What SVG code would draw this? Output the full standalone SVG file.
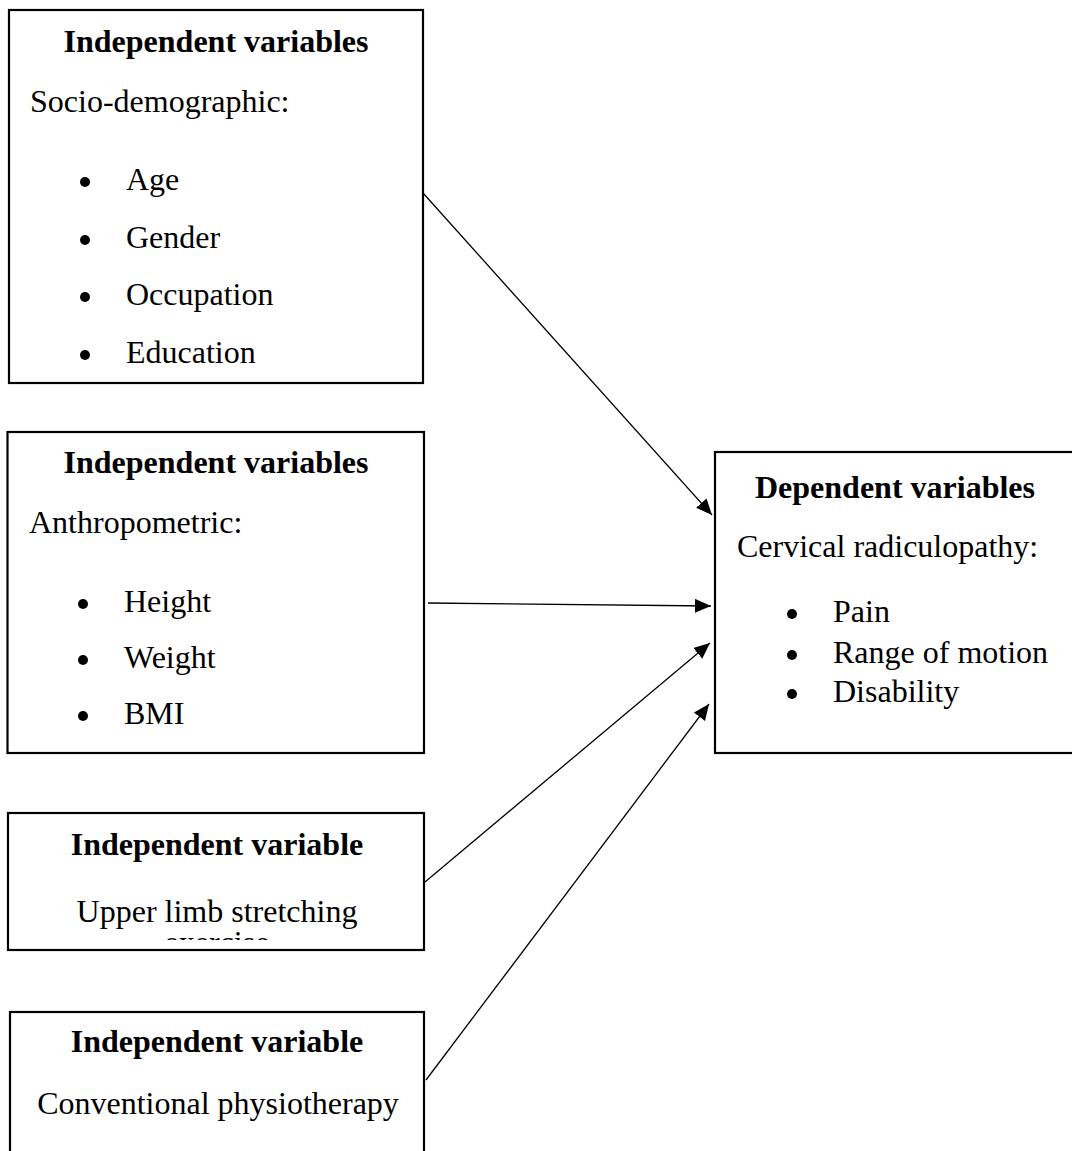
<svg xmlns="http://www.w3.org/2000/svg" width="1072" height="1151" viewBox="0 0 1072 1151">
<style>
.box{fill:#fff;stroke:#000;stroke-width:2.2}
.t{font-family:"Liberation Serif","Times New Roman",serif;font-size:32px;fill:#000}
.b{font-weight:bold}
.c{text-anchor:middle}
.dot{fill:#000}
.conn{stroke:#000;stroke-width:1.3;fill:none}
</style>
<defs>
<marker id="ah" markerUnits="userSpaceOnUse" markerWidth="18" markerHeight="16" refX="16" refY="7" orient="auto">
<path d="M0,0 L16,7 L0,14 z" fill="#000"/>
</marker>
<clipPath id="clip3"><rect x="0" y="932" width="440" height="8"/></clipPath>
</defs>
<rect width="1072" height="1151" fill="#fff"/>
<g id="box1">
<rect class="box" x="9" y="10" width="414" height="373"/>
<text class="t b c" x="216" y="52">Independent variables</text>
<text class="t" x="30" y="112">Socio-demographic:</text>
<circle class="dot" cx="85" cy="182" r="5"/><text class="t" x="126" y="190">Age</text>
<circle class="dot" cx="85" cy="240" r="5"/><text class="t" x="126" y="248">Gender</text>
<circle class="dot" cx="85" cy="297" r="5"/><text class="t" x="126" y="305">Occupation</text>
<circle class="dot" cx="85" cy="355" r="5"/><text class="t" x="126" y="363">Education</text>
</g>
<g id="box2">
<rect class="box" x="7.5" y="432" width="416.5" height="321"/>
<text class="t b c" x="216" y="473">Independent variables</text>
<text class="t" x="29" y="533">Anthropometric:</text>
<circle class="dot" cx="83" cy="604" r="5"/><text class="t" x="124" y="612">Height</text>
<circle class="dot" cx="83" cy="660" r="5"/><text class="t" x="124" y="668">Weight</text>
<circle class="dot" cx="83" cy="716" r="5"/><text class="t" x="124" y="724">BMI</text>
</g>
<g id="box3">
<rect class="box" x="8" y="813" width="416" height="137"/>
<text class="t b c" x="217" y="855">Independent variable</text>
<text class="t c" x="217" y="922">Upper limb stretching</text>
<text class="t c" x="217" y="953" clip-path="url(#clip3)">exercise</text>
</g>
<g id="box4">
<rect class="box" x="10" y="1012" width="414" height="170"/>
<text class="t b c" x="217" y="1052">Independent variable</text>
<text class="t c" x="218" y="1114">Conventional physiotherapy</text>
</g>
<g id="box5">
<rect class="box" x="715" y="452" width="380" height="301"/>
<text class="t b" x="755" y="498">Dependent variables</text>
<text class="t" x="737" y="557">Cervical radiculopathy:</text>
<circle class="dot" cx="792" cy="614" r="5"/><text class="t" x="833" y="622">Pain</text>
<circle class="dot" cx="792" cy="655" r="5"/><text class="t" x="833" y="663">Range of motion</text>
<circle class="dot" cx="792" cy="694" r="5"/><text class="t" x="833" y="702">Disability</text>
</g>
<g id="connectors">
<line class="conn" x1="423" y1="193" x2="712" y2="515" marker-end="url(#ah)"/>
<line class="conn" x1="428" y1="603" x2="711" y2="606" marker-end="url(#ah)"/>
<line class="conn" x1="425" y1="882" x2="710" y2="643" marker-end="url(#ah)"/>
<line class="conn" x1="426" y1="1080" x2="709" y2="704" marker-end="url(#ah)"/>
</g>
</svg>
